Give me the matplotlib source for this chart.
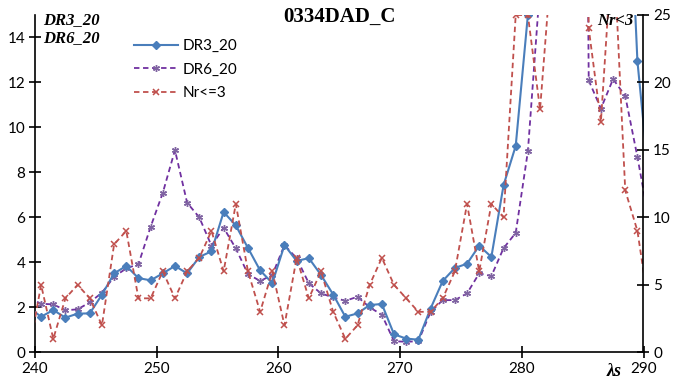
import numpy as np
import matplotlib
matplotlib.use("Agg")
import matplotlib.pyplot as plt

# wavelength positions (categories)
x = np.arange(239.5, 291.0, 1.0)

dr3_20 = [2.0,
          1.58, 1.88, 1.54, 1.72, 1.73, 2.56, 3.51, 3.84, 3.30, 3.20,
          3.51, 3.84, 3.51, 4.24, 4.49, 6.24, 5.64, 4.64, 3.64, 3.08,
          4.77, 4.06, 4.19, 3.44, 2.57, 1.58, 1.73, 2.10, 2.15, 0.80,
          0.61, 0.56, 1.94, 3.17, 3.75, 3.94, 4.74, 4.24, 7.43, 9.18,
          15.0, 22.0, 27.0, 30.0, 31.0, 30.0, 29.0, 27.0, 25.0, 12.95,
          7.4]

dr6_20 = [2.42,
          2.16, 2.13, 1.87, 1.91, 2.22, 2.65, 3.36, 3.73, 3.92, 5.58,
          7.09, 8.99, 6.65, 6.00, 4.74, 5.54, 4.62, 3.48, 3.17, 3.44,
          4.77, 4.18, 3.07, 2.62, 2.44, 2.29, 2.47, 2.00, 1.67, 0.49,
          0.47, 0.49, 1.79, 2.32, 2.32, 2.62, 3.51, 3.39, 4.63, 5.31,
          8.94, 16.3, 22.0, 30.0, 80.0, 12.09, 10.84, 12.15, 11.40, 8.69,
          5.7]

nr3 = [0.0,
       5.0, 1.0, 4.0, 5.0, 4.0, 2.0, 8.0, 9.0, 4.0, 4.0,
       6.0, 4.0, 6.0, 7.0, 9.0, 6.0, 11.0, 6.0, 3.0, 6.0,
       2.0, 7.0, 4.0, 6.0, 3.0, 1.0, 2.0, 5.0, 7.0, 5.0,
       4.0, 3.0, 3.0, 4.0, 6.0, 11.0, 6.0, 11.0, 10.0, 25.0,
       25.0, 18.0, 29.6, 40.0, 80.0, 24.0, 17.1, 31.0, 12.0, 9.0,
       3.0]

xticks = [240, 250, 260, 270, 280, 290]
yticks_left = [0, 2, 4, 6, 8, 10, 12, 14]
yticks_right = [0, 5, 10, 15, 20, 25]

W, H = 694, 385
fig = plt.figure(figsize=(W / 100, H / 100), dpi=100)
L, R, B, T = 35, 643.5, 352.3, 15.0
ax = fig.add_axes([L / W, 1 - B / H, (R - L) / W, (B - T) / H])
ax2 = ax.twinx()

tickfont = "Lato"
serif = "Liberation Serif"

c_blue = "#4A7EBB"
c_purple = "#7030A0"
c_purple_m = "#8064A2"
c_red = "#C0504D"

l1, = ax.plot(x, dr3_20, color=c_blue, lw=1.5, marker="D", ms=3.8,
              mfc=c_blue, mec=c_blue, label="DR3_20", zorder=3)
l2, = ax.plot(x, dr6_20, color=c_purple, lw=1.3, ls=(0, (3, 2)),
              marker=(6, 2, 0), ms=5, mec=c_purple_m, mew=1.0,
              label="DR6_20", zorder=2)
l3, = ax2.plot(x, nr3, color=c_red, lw=1.3, ls=(0, (3, 2)),
               marker="x", ms=4.5, mec=c_red, mew=1.1, label="Nr<=3")

ax.set_xlim(240, 290)
ax.set_ylim(0, 15)
ax2.set_ylim(0, 25)
ax.set_xticks(xticks)
ax.set_yticks(yticks_left)
ax2.set_yticks(yticks_right)

for a in (ax, ax2):
    a.spines["top"].set_visible(False)
    for s in a.spines.values():
        s.set_color("black")
        s.set_linewidth(1.2)
ax.spines["right"].set_visible(False)
ax2.spines["left"].set_visible(False)
ax2.spines["bottom"].set_visible(False)

ax.tick_params(axis="both", direction="inout", length=8, width=1.2,
               labelsize=11, pad=3)
ax2.tick_params(axis="y", direction="inout", length=8, width=1.2,
                labelsize=11, pad=3)
for lab in ax.get_xticklabels() + ax.get_yticklabels() + ax2.get_yticklabels():
    lab.set_fontfamily(tickfont)

def px(xp, yp):
    return xp / W, 1 - yp / H

fig.text(*px(339, 17), "0334DAD_C", ha="center", va="center",
         fontfamily=serif, fontweight="bold", fontsize=15)
fig.text(*px(43, 20), "DR3_20", ha="left", va="center", fontfamily=serif,
         fontweight="bold", fontstyle="italic", fontsize=12)
fig.text(*px(43, 38), "DR6_20", ha="left", va="center", fontfamily=serif,
         fontweight="bold", fontstyle="italic", fontsize=12)
fig.text(*px(634, 21), "Nr<3", ha="right", va="center", fontfamily=serif,
         fontweight="bold", fontstyle="italic", fontsize=12)
fig.text(*px(614, 371), "λs", ha="center", va="center", fontfamily=serif,
         fontweight="bold", fontstyle="italic", fontsize=13)

leg = fig.legend(handles=[l1, l2, l3], loc="upper left",
                 bbox_to_anchor=px(128, 33), borderaxespad=0, frameon=False,
                 prop={"family": tickfont, "size": 11}, handlelength=2.9,
                 handletextpad=0.3, labelspacing=0.62)

fig.savefig("out.png", dpi=100)
